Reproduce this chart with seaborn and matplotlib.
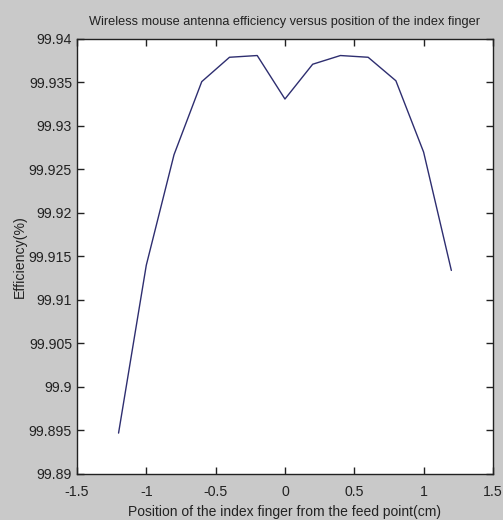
import numpy as np
import pandas as pd
import matplotlib
matplotlib.use('Agg')
import matplotlib.pyplot as plt
import seaborn as sns

# finger position (cm) and efficiency (%)
position = [-1.2, -1.0, -0.8, -0.6, -0.4, -0.2, 0.0, 0.2, 0.4, 0.6, 0.8, 1.0, 1.2]
efficiency = [99.8947, 99.9140, 99.9267, 99.9351, 99.9379, 99.9381, 99.9331,
              99.9371, 99.9381, 99.9379, 99.9352, 99.9270, 99.9134]
x_ticks = [-1.5, -1, -0.5, 0, 0.5, 1, 1.5]
x_labels = ['-1.5', '-1', '-0.5', '0', '0.5', '1', '1.5']
y_ticks = [99.89, 99.895, 99.9, 99.905, 99.91, 99.915, 99.92, 99.925, 99.93, 99.935, 99.94]
y_labels = ['99.89', '99.895', '99.9', '99.905', '99.91', '99.915', '99.92',
            '99.925', '99.93', '99.935', '99.94']

df = pd.DataFrame({"position": position, "efficiency": efficiency})

sns.set_style("ticks")
plt.rcParams['font.family'] = ['Liberation Sans Narrow', 'Liberation Sans', 'DejaVu Sans']

fig = plt.figure(figsize=(5.03, 5.2), dpi=100, facecolor='#c9c9c9')
ax = fig.add_axes([0.153, 0.0885, 0.827, 0.8365])
ax.set_facecolor('white')

sns.lineplot(data=df, x="position", y="efficiency", color='#2e2e70', linewidth=1.0, ax=ax)

ax.set_xlim(-1.5, 1.5)
ax.set_ylim(99.89, 99.94)
ax.set_xticks(x_ticks)
ax.set_xticklabels(x_labels)
ax.set_yticks(y_ticks)
ax.set_yticklabels(y_labels)
ax.tick_params(direction='in', length=5, width=1, top=True, right=True,
               labelsize=10.2, colors='#222222')
ax.tick_params(axis='x', pad=8)
ax.tick_params(axis='y', pad=3.5)
for s in ax.spines.values():
    s.set_visible(True)
    s.set_color('#222222')
    s.set_linewidth(1.0)

ax.set_title('Wireless mouse antenna efficiency versus position of the index finger',
             fontsize=9.2, color='#222222', pad=10)
ax.set_xlabel('Position of the index finger from the feed point(cm)', fontsize=10,
              color='#222222', labelpad=4)
ax.set_ylabel('Efficiency(%)', fontsize=10.2, color='#222222', labelpad=1)

fig.savefig('out.png', dpi=100, facecolor=fig.get_facecolor())
